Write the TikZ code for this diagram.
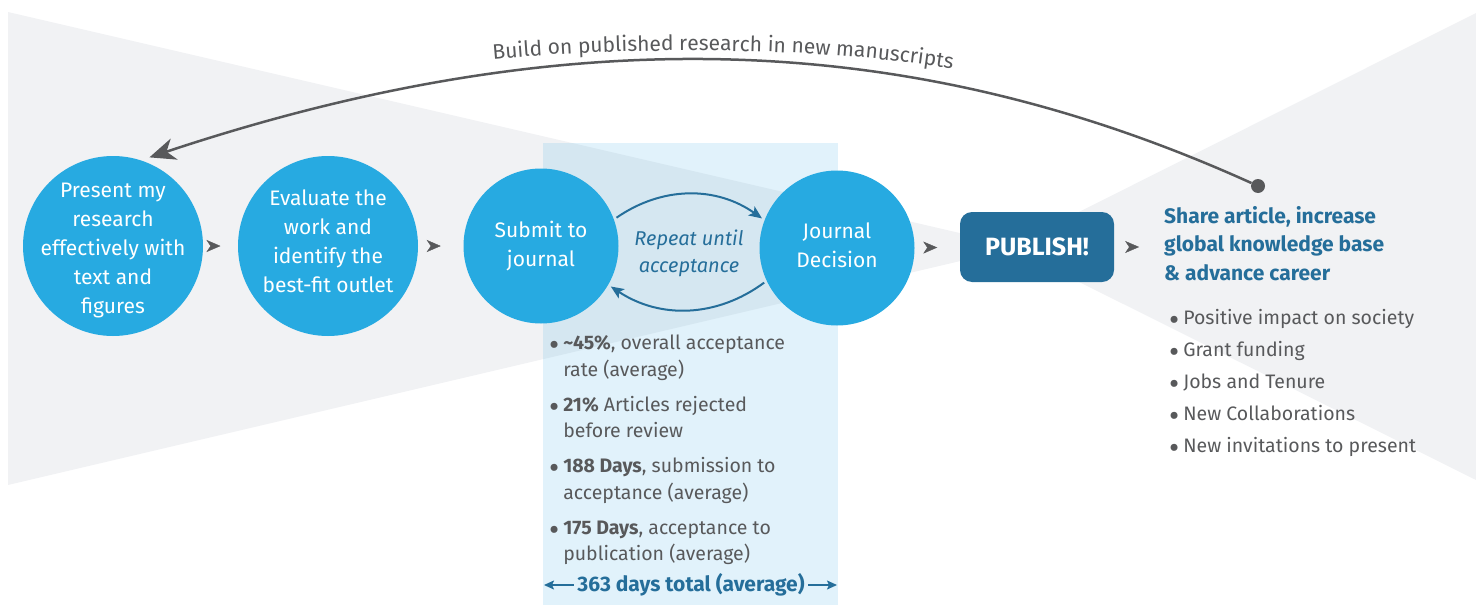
\documentclass[tikz,border=0pt]{standalone}
\usepackage{fontspec}
\usepackage{graphicx}
\setmainfont{Fira Sans}
\usetikzlibrary{arrows.meta,decorations.markings,decorations.text}
\definecolor{stepblue}{HTML}{27AAE1}
\definecolor{pubblue}{HTML}{256E9A}
\definecolor{inkgray}{HTML}{58595B}
\definecolor{funnelgray}{HTML}{F1F2F4}
\definecolor{panelblue}{HTML}{E1F2FB}
\definecolor{overlapblue}{HTML}{D5E7F1}
\newcommand{\dotitem}{\raisebox{-6pt}{\scalebox{1.6}{•}}}
\tikzset{
  stepcirc/.style={circle,fill=stepblue,inner sep=0pt,minimum size=#1},
  circtext/.style={text=white,align=center,font=\fontsize{21}{29}\selectfont},
  nexttip/.style={postaction={decorate},decoration={markings,mark=at position 0.5 with {\arrow{Stealth[length=14pt,width=12pt,inset=4pt,color=inkgray]}}}},
  looparrow/.style={draw=pubblue,line width=2pt,-{Stealth[length=13pt,width=11pt,inset=3pt]},shorten <=3pt,shorten >=3pt},
  listtext/.style={text=inkgray,font=\fontsize{19.5}{26.5}\selectfont,inner sep=0pt,anchor=north west},
}
\begin{document}
\begin{tikzpicture}[x=1pt,y=1pt]
\pgfmathsetmacro{\bigd}{180}
\pgfmathsetmacro{\smalld}{155}
\useasboundingbox (0,0) rectangle (1476,-605);
% funnels and the stats panel
\fill[funnelgray](8,-12)--(1020,-247)--(8,-485)--cycle;
\fill[funnelgray](1476,-13)--(1009,-247)--(1476,-480)--cycle;
\fill[panelblue](543,-143) rectangle (838,-605);
\begin{scope}
\clip(543,-143) rectangle (838,-605);
\fill[overlapblue](8,-12)--(1020,-247)--(8,-485)--cycle;
\end{scope}
% steps
\node[stepcirc=\bigd pt,label={[circtext,yshift=-4pt]center:{Present my\\research\\effectively with\\text and\\figures}}] (present) at (113,-246) {};
\node[stepcirc=\bigd pt,label={[circtext,yshift=5pt]center:{Evaluate the\\work and\\identify the\\best-fit outlet}}] (evaluate) at (328,-246) {};
\node[stepcirc=\smalld pt,label={[circtext]center:{Submit to\\journal}}] (submit) at (541,-246) {};
\node[stepcirc=\smalld pt,label={[circtext,yshift=3pt]center:{Journal\\Decision}}] (decision) at (837,-248) {};
\node[rectangle,rounded corners=12pt,fill=pubblue,text=white,minimum width=154pt,minimum height=70pt,font=\bfseries\fontsize{25}{28}\selectfont] (publish) at (1037,-247) {PUBLISH!};
\node[anchor=north west,inner sep=0pt,align=left,text=pubblue,font=\bfseries\fontsize{21}{28.5}\selectfont] (share) at (1164,-206) {Share article, increase\\global knowledge base\\\& advance career};
\node[circle,fill=inkgray,inner sep=0pt,minimum size=14pt] (dot) at (1258,-186) {};
\foreach \a/\b in {present/evaluate,evaluate/submit,decision/publish}{\path[nexttip](\a)--(\b);}
\path[nexttip](publish.east)--(publish.east -| share.west);
% repeat loop
\node[text=pubblue,align=center,font=\itshape\fontsize{20}{27}\selectfont] (repeat) at (689,-253) {Repeat until\\acceptance};
\draw[looparrow](submit.20) to[bend left=35] (decision.159);
\draw[looparrow](decision.205) to[bend left=35] (submit.-30);
% back to the start
\draw[draw=inkgray,line width=2.5pt,-{Stealth[length=26pt,width=22pt,inset=8pt]},shorten >=9pt](dot) .. controls (924,-35) and (583,-13) .. (present.72);
\path[decorate,decoration={text along path,text align=center,text color=inkgray,text={|\fontsize{21}{24}\selectfont|Build on published research in new manuscripts}}](465,-62) .. controls (590,-48) and (820,-42) .. (980,-74);
% stats
\node[listtext] (stats) at (549,-331) {\begin{tabular}{@{}l@{\hspace{4pt}}l@{}}
\dotitem&\textbf{\textasciitilde45\%}, overall acceptance\\
&rate (average)\\[8.5pt]
\dotitem&\textbf{21\%} Articles rejected\\
&before review\\[8.5pt]
\dotitem&\textbf{188 Days}, submission to\\
&acceptance (average)\\[8.5pt]
\dotitem&\textbf{175 Days}, acceptance to\\
&publication (average)
\end{tabular}};
\node[text=pubblue,font=\bfseries\fontsize{21}{24}\selectfont] (total) at (691,-585) {363 days total (average)};
\coordinate (tleft) at (544,-585);
\coordinate (tright) at (837,-585);
\draw[pubblue,line width=1.6pt,-{Stealth[length=10pt,width=9pt,inset=2pt]}](total)--(tleft);
\draw[pubblue,line width=1.6pt,-{Stealth[length=10pt,width=9pt,inset=2pt]}](total)--(tright);
% gains
\node[listtext,font=\fontsize{19.5}{32}\selectfont] (gains) at (1169,-302) {\begin{tabular}{@{}l@{\hspace{4pt}}l@{}}
\dotitem&Positive impact on society\\
\dotitem&Grant funding\\
\dotitem&Jobs and Tenure\\
\dotitem&New Collaborations\\
\dotitem&New invitations to present
\end{tabular}};
\end{tikzpicture}
\end{document}
